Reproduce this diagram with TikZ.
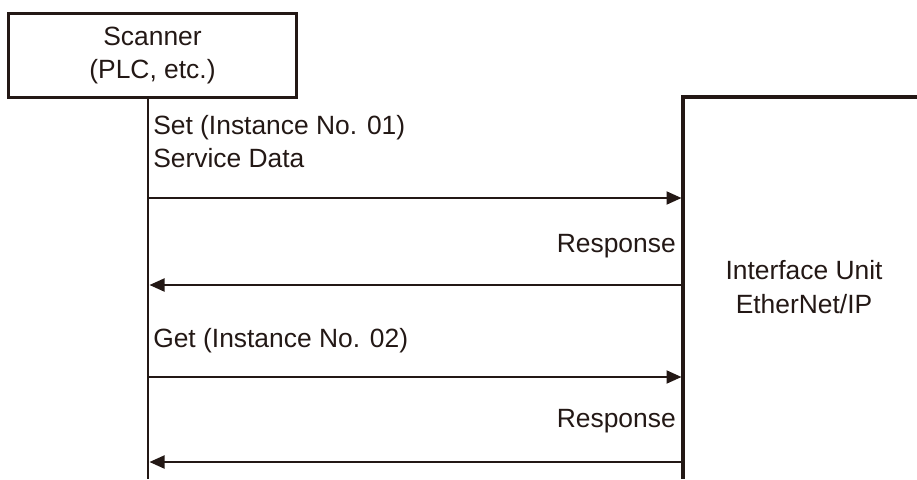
\documentclass[tikz,border=0pt]{standalone}
\usepackage{fontspec}
\setmainfont{Liberation Sans}
\usetikzlibrary{arrows.meta}
\definecolor{ink}{HTML}{231815}
\begin{document}
\begin{tikzpicture}[x=0.75pt,y=-0.75pt,
  lbl/.style={font=\fontsize{19.8pt}{25pt}\selectfont, text=ink, inner sep=0pt},
  boxline/.style={draw=ink, line width=2.3pt},
  life/.style={draw=ink, line width=1.8pt},
  msg/.style={draw=ink, line width=1.5pt, -{Triangle[length=11.25pt,width=9.75pt]}}]
\useasboundingbox (0,0) rectangle (917,479);
% scanner
\node[boxline, lbl, inner sep=0pt, minimum width=216pt, minimum height=63pt, align=center] (scan) at (152.5,55.3) {Scanner\\(PLC, etc.)};
\coordinate (s0) at (148,97);
\coordinate (s1) at (148,479);
\draw[life] (s0) -- (s1);
% interface unit
\coordinate (u0) at (917,97);
\coordinate (uc) at (683,97);
\coordinate (u1) at (683,479);
\draw[boxline] (u0) -- (uc) -- (u1);
\node[lbl, align=center] (unit) at (804,287) {Interface Unit\\EtherNet/IP};
% messages
\coordinate (a1) at (148,198); \coordinate (b1) at (681.5,198);
\coordinate (a2) at (683,285); \coordinate (b2) at (149.5,285);
\coordinate (a3) at (148,377); \coordinate (b3) at (681.5,377);
\coordinate (a4) at (683,462); \coordinate (b4) at (149.5,462);
\draw[msg] (a1) -- (b1);
\draw[msg] (a2) -- (b2);
\draw[msg] (a3) -- (b3);
\draw[msg] (a4) -- (b4);
% labels
\node[lbl, anchor=base west] (t1) at (153,134) {Set (Instance No. 01)};
\node[lbl, anchor=base west] (t2) at (153,167) {Service Data};
\node[lbl, anchor=base east] (r1) at (676,252) {Response};
\node[lbl, anchor=base west] (t3) at (153,347) {Get (Instance No. 02)};
\node[lbl, anchor=base east] (r2) at (676,427) {Response};
\end{tikzpicture}
\end{document}
